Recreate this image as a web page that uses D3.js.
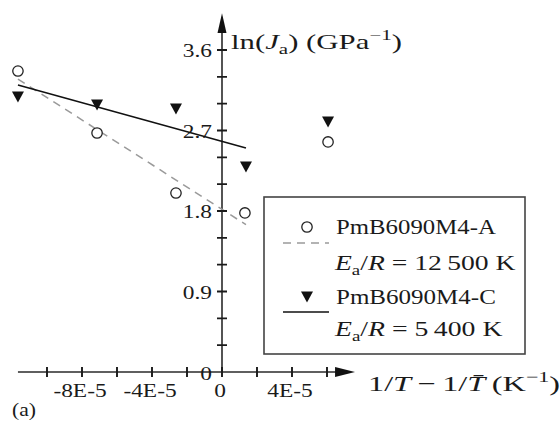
<!DOCTYPE html>
<html><head><meta charset="utf-8">
<script src="https://cdn.jsdelivr.net/npm/d3@7"></script>
<style>
html,body{margin:0;padding:0;background:#fff;}
svg{display:block;}
text{font-family:"Liberation Serif","Times New Roman",serif;fill:#1a1a1a;}
</style></head><body>
<svg id="chart" width="560" height="421"></svg>
<script>
// Inverse-temperature offsets 1/T − 1/T̄ (K^-1) and ln(Ja) for both specimens
const xA = [-11.66e-5, -7.14e-5, -2.63e-5, 1.31e-5, 6.06e-5];
const lnJaA = [3.365, 2.672, 2.001, 1.778, 2.572];
const xC = [-11.66e-5, -7.14e-5, -2.63e-5, 1.37e-5, 6.06e-5];
const lnJaC = [3.075, 2.985, 2.940, 2.292, 2.795];

// Arrhenius fits: ln(Ja) = b − (Ea/R)·x
const seriesNames = ["PmB6090M4-A", "PmB6090M4-C"];
const EaR = [12500, 5400];
const EaRText = ["12\u2009500", "5\u2009400"];
const intercepts = [1.818, 2.579];
const fitRange = [-11.66e-5, 1.37e-5];

// Axis ticks
const xTickValues = [-10e-5, -8e-5, -6e-5, -4e-5, -2e-5, 0, 2e-5, 4e-5, 6e-5];
const xLabelValues = [-8e-5, -4e-5, 0, 4e-5];
const xLabelText = ["-8E-5", "-4E-5", "0", "4E-5"];
const yTickValues = [0.3, 0.6, 0.9, 1.2, 1.5, 1.8, 2.1, 2.4, 2.7, 3.0, 3.3, 3.6];
const yLabelValues = [0, 0.9, 1.8, 2.7, 3.6];
const yLabelText = ["0", "0.9", "1.8", "2.7", "3.6"];

const svg = d3.select("#chart");
const x = d3.scaleLinear().domain([0, 4e-5]).range([222, 292]);
const y = d3.scaleLinear().domain([0, 3.6]).range([372, 50]);

const axisColor = "#2a2a2a";

// horizontally stretched text group helper
function textGroup(px, py, sx, anchor) {
  const g = svg.append("g").attr("transform", `translate(${px},${py}) scale(${sx},1)`);
  return g.append("text").attr("text-anchor", anchor || "start");
}
function fitWidth(t, px, py, w) {
  const bw = t.node().getBBox().width;
  d3.select(t.node().parentNode).attr("transform", `translate(${px},${py}) scale(${w / bw},1)`);
}

// x axis line with arrow
const xEnd = 7.6e-5, xArrowBase = 6.46e-5;
svg.append("line")
  .attr("x1", x(-11.66e-5)).attr("x2", x(xArrowBase) + 2)
  .attr("y1", y(0)).attr("y2", y(0))
  .attr("stroke", axisColor).attr("stroke-width", 1.6);
svg.append("path")
  .attr("d", `M${x(xEnd)},${y(0)} L${x(xArrowBase)},${y(0) - 5} L${x(xArrowBase)},${y(0) + 5} Z`)
  .attr("fill", "#111");

// y axis line with arrow
const yEnd = 4.01, yArrowBase = 3.79;
svg.append("line")
  .attr("x1", x(0)).attr("x2", x(0))
  .attr("y1", y(0)).attr("y2", y(yArrowBase) - 2)
  .attr("stroke", axisColor).attr("stroke-width", 1.6);
svg.append("path")
  .attr("d", `M${x(0)},${y(yEnd)} L${x(0) - 4.5},${y(yArrowBase)} L${x(0) + 4.5},${y(yArrowBase)} Z`)
  .attr("fill", "#111");

// tick labels
const tickSx = 1.3;
xLabelValues.forEach((v, i) => {
  textGroup(x(v) - 2, 397, tickSx, "middle").attr("font-size", 18).text(xLabelText[i]);
});
yLabelValues.forEach((v, i) => {
  textGroup(212, y(v) + 7 + (v === 0 ? 1 : 0), tickSx, "end").attr("font-size", 18).text(yLabelText[i]);
});

// y axis title: ln(Ja) (GPa^-1)
{
  const t = textGroup(231, 49, 1, "start").attr("font-size", 22);
  t.append("tspan").text("ln(");
  t.append("tspan").attr("font-style", "italic").text("J");
  t.append("tspan").attr("font-size", 15).attr("dy", 5).text("a");
  t.append("tspan").attr("dy", -5).text(") (GPa");
  t.append("tspan").attr("font-size", 15).attr("dy", -9).text("\u22121");
  t.append("tspan").attr("dy", 9).text(")");
  fitWidth(t, 231, 49, 171);
}
// x axis title: 1/T − 1/T̄ (K^-1)
{
  const t = textGroup(368, 391, 1, "start").attr("font-size", 22);
  t.append("tspan").text("1/");
  t.append("tspan").attr("font-style", "italic").text("T");
  t.append("tspan").text("\u2009\u2212\u20091/");
  t.append("tspan").attr("font-style", "italic").text("T\u0304");
  t.append("tspan").text("\u2009(K");
  t.append("tspan").attr("font-size", 15).attr("dy", -9).text("\u22121");
  t.append("tspan").attr("dy", 9).text(")");
  fitWidth(t, 368, 391, 192);
}
// panel tag
textGroup(12, 416, 1.2, "start").attr("font-size", 18).text("(a)");

// fit lines
const line = d3.line().x(d => x(d[0])).y(d => y(d[1]));
const fitStyles = [
  { stroke: "#9a9a9a", dash: "8,6" },
  { stroke: "#111", dash: null }
];
[0, 1].forEach(k => {
  const pts = fitRange.map(v => [v, intercepts[k] - EaR[k] * v]);
  svg.append("path").attr("d", line(pts))
    .attr("fill", "none").attr("stroke", fitStyles[k].stroke)
    .attr("stroke-width", 1.5).attr("stroke-dasharray", fitStyles[k].dash);
});

// markers
const triPath = (cx, cy) => `M${cx - 6},${cy - 5.5} L${cx + 6},${cy - 5.5} L${cx},${cy + 5.5} Z`;
svg.append("g").selectAll("circle").data(d3.zip(xA, lnJaA)).join("circle")
  .attr("cx", d => x(d[0])).attr("cy", d => y(d[1])).attr("r", 5.2)
  .attr("fill", "#fff").attr("stroke", "#222").attr("stroke-width", 1.3);
svg.append("g").selectAll("path").data(d3.zip(xC, lnJaC)).join("path")
  .attr("d", d => triPath(x(d[0]), y(d[1]))).attr("fill", "#111");

// legend
svg.append("rect").attr("x", 264).attr("y", 197).attr("width", 261).attr("height", 157)
  .attr("fill", "#fff").attr("stroke", "#444").attr("stroke-width", 1.6);
svg.append("circle").attr("cx", 307).attr("cy", 227).attr("r", 5.2)
  .attr("fill", "#fff").attr("stroke", "#222").attr("stroke-width", 1.3);
svg.append("line").attr("x1", 283).attr("x2", 329).attr("y1", 243).attr("y2", 243)
  .attr("stroke", fitStyles[0].stroke).attr("stroke-width", 1.5).attr("stroke-dasharray", "8,6");
svg.append("path").attr("d", triPath(307, 297)).attr("fill", "#111");
svg.append("line").attr("x1", 283).attr("x2", 329).attr("y1", 312).attr("y2", 312)
  .attr("stroke", fitStyles[1].stroke).attr("stroke-width", 1.5);

const legendRows = [
  { name: seriesNames[0], nameY: 234, eqY: 270, eq: EaRText[0], eqW: 182 },
  { name: seriesNames[1], nameY: 304, eqY: 336, eq: EaRText[1], eqW: 169 }
];
legendRows.forEach(r => {
  const n = textGroup(336, r.nameY, 1, "start").attr("font-size", 22).text(r.name);
  fitWidth(n, 336, r.nameY, 160);
  const t = textGroup(335, r.eqY, 1, "start").attr("font-size", 22);
  t.append("tspan").attr("font-style", "italic").text("E");
  t.append("tspan").attr("font-size", 15).attr("dy", 5).text("a");
  t.append("tspan").attr("dy", -5).text("/");
  t.append("tspan").attr("font-style", "italic").text("R");
  t.append("tspan").text(` = ${r.eq} K`);
  fitWidth(t, 335, r.eqY, r.eqW);
});

// tick crosses straddling each axis, drawn on top
const tickD = xTickValues.map(v => `M${x(v)},${y(0) - 5}V${y(0) + 5}`).join("") +
  yTickValues.map(v => `M${x(0) - 5},${y(v)}H${x(0) + 5}`).join("");
svg.append("path").attr("d", tickD)
  .attr("fill", "none").attr("stroke", "#1a1a1a").attr("stroke-width", 1.9);
</script>
</body></html>
